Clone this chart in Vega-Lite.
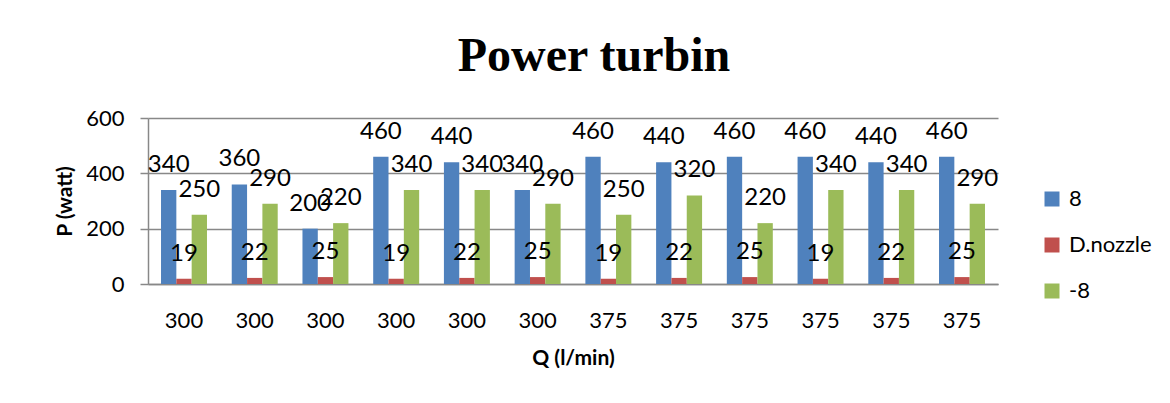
{
  "$schema": "https://vega.github.io/schema/vega-lite/v6.json",
  "width": 850,
  "height": 166,
  "autosize": {"type": "none"},
  "padding": {"left": 148, "top": 118, "right": 172, "bottom": 119},
  "background": "white",
  "title": {"text": "Power turbin", "font": "Liberation Serif", "fontSize": 48, "fontWeight": "bold", "color": "#000000", "anchor": "middle", "dx": 21, "offset": 26},
  "data": {"values": [
    {"case": "300-1", "series": "8", "P": 340}, {"case": "300-1", "series": "D.nozzle", "P": 19}, {"case": "300-1", "series": "-8", "P": 250},
    {"case": "300-2", "series": "8", "P": 360}, {"case": "300-2", "series": "D.nozzle", "P": 22}, {"case": "300-2", "series": "-8", "P": 290},
    {"case": "300-3", "series": "8", "P": 200}, {"case": "300-3", "series": "D.nozzle", "P": 25}, {"case": "300-3", "series": "-8", "P": 220},
    {"case": "300-4", "series": "8", "P": 460}, {"case": "300-4", "series": "D.nozzle", "P": 19}, {"case": "300-4", "series": "-8", "P": 340},
    {"case": "300-5", "series": "8", "P": 440}, {"case": "300-5", "series": "D.nozzle", "P": 22}, {"case": "300-5", "series": "-8", "P": 340},
    {"case": "300-6", "series": "8", "P": 340}, {"case": "300-6", "series": "D.nozzle", "P": 25}, {"case": "300-6", "series": "-8", "P": 290},
    {"case": "375-7", "series": "8", "P": 460}, {"case": "375-7", "series": "D.nozzle", "P": 19}, {"case": "375-7", "series": "-8", "P": 250},
    {"case": "375-8", "series": "8", "P": 440}, {"case": "375-8", "series": "D.nozzle", "P": 22}, {"case": "375-8", "series": "-8", "P": 320},
    {"case": "375-9", "series": "8", "P": 460}, {"case": "375-9", "series": "D.nozzle", "P": 25}, {"case": "375-9", "series": "-8", "P": 220},
    {"case": "375-10", "series": "8", "P": 460}, {"case": "375-10", "series": "D.nozzle", "P": 19}, {"case": "375-10", "series": "-8", "P": 340},
    {"case": "375-11", "series": "8", "P": 440}, {"case": "375-11", "series": "D.nozzle", "P": 22}, {"case": "375-11", "series": "-8", "P": 340},
    {"case": "375-12", "series": "8", "P": 460}, {"case": "375-12", "series": "D.nozzle", "P": 25}, {"case": "375-12", "series": "-8", "P": 290}
  ]},
  "encoding": {
    "x": {
      "field": "case", "type": "ordinal", "sort": null,
      "scale": {"paddingInner": 0.35, "paddingOuter": 0.184},
      "axis": {
        "title": "Q (l/min)", "labelExpr": "split(datum.value, '-')[0]", "labelAngle": 0,
        "labelFont": "Lato", "labelFontSize": 22, "labelColor": "#000000", "labelPadding": 26,
        "ticks": false, "domainColor": "#888888", "domainWidth": 1.5,
        "titleFont": "Lato", "titleFontSize": 21, "titleFontWeight": "bold", "titleColor": "#000000", "titlePadding": 16
      }
    },
    "xOffset": {"field": "series", "type": "nominal", "scale": {"domain": ["8", "D.nozzle", "-8"], "paddingInner": 0, "paddingOuter": 0}},
    "y": {
      "field": "P", "type": "quantitative",
      "scale": {"domain": [0, 600]},
      "axis": {
        "title": "P (watt)", "values": [0, 200, 400, 600],
        "labelFont": "Lato", "labelFontSize": 22, "labelColor": "#000000", "labelPadding": 16,
        "tickSize": 8, "tickColor": "#888888", "tickWidth": 1.5,
        "domainColor": "#888888", "domainWidth": 1.5,
        "gridColor": "#888888", "gridWidth": 1.5,
        "titleFont": "Lato", "titleFontSize": 21, "titleFontWeight": "bold", "titleColor": "#000000", "titlePadding": 10
      }
    }
  },
  "layer": [
    {
      "mark": {"type": "bar"},
      "encoding": {
        "color": {
          "field": "series", "type": "nominal",
          "scale": {"domain": ["8", "D.nozzle", "-8"], "range": ["#4F81BD", "#C0504D", "#9BBB59"]},
          "legend": {
            "title": null, "orient": "none", "legendX": 893, "legendY": 70,
            "symbolType": "square", "symbolSize": 225, "symbolStrokeWidth": 0,
            "labelFont": "Lato", "labelFontSize": 22, "labelColor": "#000000", "labelOffset": 6,
            "rowPadding": 24
          }
        }
      }
    },
    {
      "mark": {"type": "text", "baseline": "bottom", "dy": -13, "font": "Lato", "fontSize": 24, "color": "#000000"},
      "encoding": {"text": {"field": "P", "type": "quantitative"}}
    }
  ],
  "config": {"view": {"stroke": null}}
}
